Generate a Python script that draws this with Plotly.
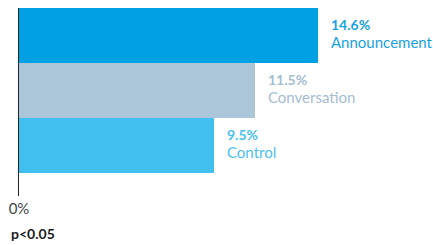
import plotly.graph_objects as go

categories = ["Announcement", "Conversation", "Control"]
values = [14.6, 11.5, 9.5]
value_labels = ["14.6%", "11.5%", "9.5%"]
bar_colors = ["#00A0E3", "#ACC6D9", "#41BFEF"]
text_colors = ["#17A2E2", "#A4BDD0", "#4BC1EF"]
positions = [2, 1, 0]

FONT = "Lato"

fig = go.Figure()
fig.add_trace(go.Bar(
    x=values, y=positions, orientation="h",
    marker=dict(color=bar_colors, line=dict(width=0)),
    width=1, hoverinfo="skip", showlegend=False,
))

for v, p, lab, cat, tc in zip(values, positions, value_labels, categories, text_colors):
    fig.add_annotation(
        x=v, y=p, xref="x", yref="y", xanchor="left", yanchor="middle",
        xshift=11, yshift=2, showarrow=False, align="left",
        text=(f"<span style='font-size:14px'><b>{lab}</b></span><br>"
              f"<span style='font-size:15px'>{cat}</span>"),
        font=dict(family=FONT, size=13.6, color=tc),
    )

fig.add_annotation(
    x=0, y=0, xref="paper", yref="paper", xanchor="left", yanchor="middle",
    xshift=-10, yshift=-37, showarrow=False,
    text="<b>p<0.05</b>", font=dict(family=FONT, size=14, color="#1a1a1a"),
)

fig.update_layout(
    width=433, height=245,
    margin=dict(l=19, r=0, t=8, b=49),
    paper_bgcolor="white", plot_bgcolor="white",
    bargap=0,
    xaxis=dict(range=[0, 20.2], tickvals=[0], ticktext=["0%"], showgrid=False,
               zeroline=False, showline=False, ticks="", ticklabelstandoff=2,
               tickfont=dict(family=FONT, size=15, color="#444444")),
    yaxis=dict(range=[-0.92, 2.5], showticklabels=False, showgrid=False,
               zeroline=False, showline=True, linecolor="#222222", linewidth=1,
               ticks=""),
)

fig.write_html("out.html", config={"displayModeBar": False},
               post_script="document.body.style.margin='0';document.body.style.overflow='hidden';")
